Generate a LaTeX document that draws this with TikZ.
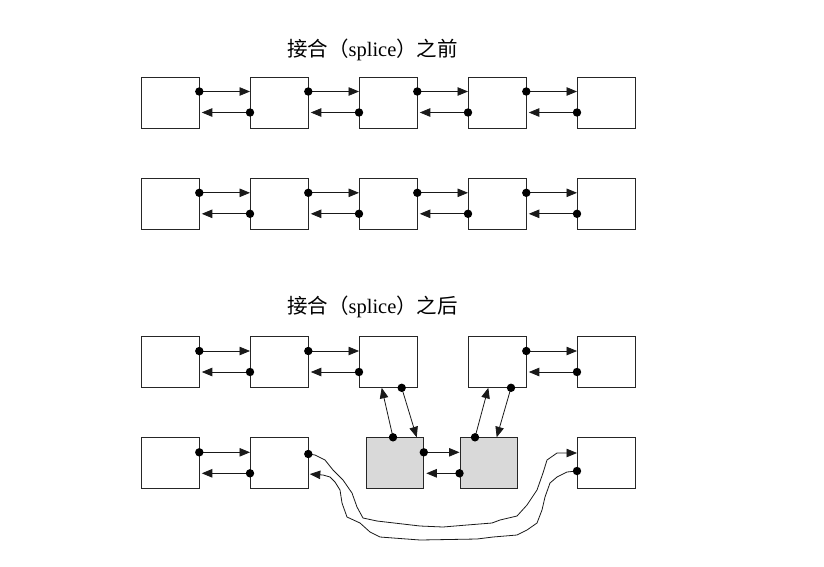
\documentclass[tikz,border=0pt]{standalone}
\usepackage{fontspec}
\newfontfamily\cjkfont{Noto Sans CJK SC}
\newfontfamily\latinserif{Liberation Serif}
\usetikzlibrary{arrows.meta,calc}
\tikzset{
  box/.style={draw=black!85, line width=0.8pt, minimum width=57.5pt, minimum height=51pt, inner sep=0pt, anchor=north west, fill=white},
  gbox/.style={box, fill=black!15},
  ptr/.style={line width=0.8pt, draw=black!90, -{Triangle[length=10.5pt,width=8.5pt]}},
  curvep/.style={ptr, line join=round},
  dotfill/.style={fill=black},
  titlestyle/.style={inner sep=0pt, font=\fontsize{20.5}{24}\selectfont}
}
\newcommand\dotr{4.2pt}
\newcommand\dlinkpair[2]{%
  \draw[ptr] ($(#1.north east)+(0,15)$) -- ($(#2.north west)+(0,15)$);
  \draw[ptr, shorten >=2.5pt] ($(#2.north west)+(0,36)$) -- ($(#1.north east)+(0,36)$);
  \fill[dotfill] ($(#1.north east)+(0,15)$) circle (\dotr);
  \fill[dotfill] ($(#2.north west)+(0,36)$) circle (\dotr);
}
\begin{document}
\begin{tikzpicture}[x=1pt,y=-1pt]
\useasboundingbox (0,0) rectangle (824,566);
% titles
\node[titlestyle] (t1) at (372.5,49.5) {\cjkfont 接合（\latinserif splice\cjkfont ）之前};
\node[titlestyle] (t2) at (372.5,306.5) {\cjkfont 接合（\latinserif splice\cjkfont ）之后};
% row 1
\node[box] (r1a) at (141,76.5) {};
\node[box] (r1b) at (250,76.5) {};
\node[box] (r1c) at (359,76.5) {};
\node[box] (r1d) at (468,76.5) {};
\node[box] (r1e) at (577,76.5) {};
% row 2
\node[box] (r2a) at (141,177.8) {};
\node[box] (r2b) at (250,177.8) {};
\node[box] (r2c) at (359,177.8) {};
\node[box] (r2d) at (468,177.8) {};
\node[box] (r2e) at (577,177.8) {};
% row 3
\node[box] (r3a) at (141,336) {};
\node[box] (r3b) at (250,336) {};
\node[box] (r3c) at (359,336) {};
\node[box] (r3d) at (468,336) {};
\node[box] (r3e) at (577,336) {};
% row 4
\node[box] (r4a) at (141,437.3) {};
\node[box] (r4b) at (250,437.3) {};
\node[gbox, minimum width=57pt] (g1) at (366,437.3) {};
\node[gbox, minimum width=57pt] (g2) at (459.5,437.3) {};
\node[box] (r4e) at (577,437.3) {};
% links
\dlinkpair{r1a}{r1b}
\dlinkpair{r1b}{r1c}
\dlinkpair{r1c}{r1d}
\dlinkpair{r1d}{r1e}
\dlinkpair{r2a}{r2b}
\dlinkpair{r2b}{r2c}
\dlinkpair{r2c}{r2d}
\dlinkpair{r2d}{r2e}
\dlinkpair{r3a}{r3b}
\dlinkpair{r3b}{r3c}
\dlinkpair{r3d}{r3e}
\dlinkpair{r4a}{r4b}
\dlinkpair{g1}{g2}
% vertical links
\draw[ptr] ($(r3c.south west)+(42.7,0)$) -- ($(g1.north west)+(50.7,0)$);
\draw[ptr] ($(g1.north west)+(27,0)$) -- ($(r3c.south west)+(22.7,0)$);
\draw[ptr] ($(g2.north west)+(15.5,0)$) -- ($(r3d.south west)+(20.3,0)$);
\draw[ptr] ($(r3d.south west)+(43,0)$) -- ($(g2.north west)+(37.2,0)$);
\fill[dotfill] ($(r3c.south west)+(42.7,0)$) circle (\dotr);
\fill[dotfill] ($(g1.north west)+(27,0)$) circle (\dotr);
\fill[dotfill] ($(g2.north west)+(15.5,0)$) circle (\dotr);
\fill[dotfill] ($(r3d.south west)+(43,0)$) circle (\dotr);
% spliced curves
\coordinate (cs1) at ($(r4b.north east)+(0,16.7)$);
\coordinate (ce1) at ($(r4e.north west)+(0,15.7)$);
\coordinate (cs2) at ($(r4e.north west)+(0,33.7)$);
\coordinate (ce2) at ($(r4b.north east)+(0,36.7)$);
\draw[curvep] (cs1) -- (315,455) -- (325,460) -- (333,470) -- (343,480) -- (352,493) -- (357,507) -- (363,518) -- (377,521) -- (420,526) -- (443,527) -- (467,525) -- (492,523) -- (500,520) -- (517,516) -- (527,505) -- (537,490) -- (543,473) -- (547,460) -- (557,453) -- (567,453) -- (ce1);
\draw[curvep, shorten >=1.5pt] (cs2) -- (567,472) -- (557,477) -- (550,483) -- (545,497) -- (542,510) -- (537,523) -- (527,530) -- (517,535) -- (493,537) -- (477,539) -- (420,540) -- (380,537) -- (370,532) -- (360,523) -- (347,517) -- (342,503) -- (340,490) -- (335,482) -- (330,477) -- (323,475) -- (ce2);
\fill[dotfill] (cs1) circle (\dotr);
\fill[dotfill] (cs2) circle (\dotr);
\end{tikzpicture}
\end{document}
